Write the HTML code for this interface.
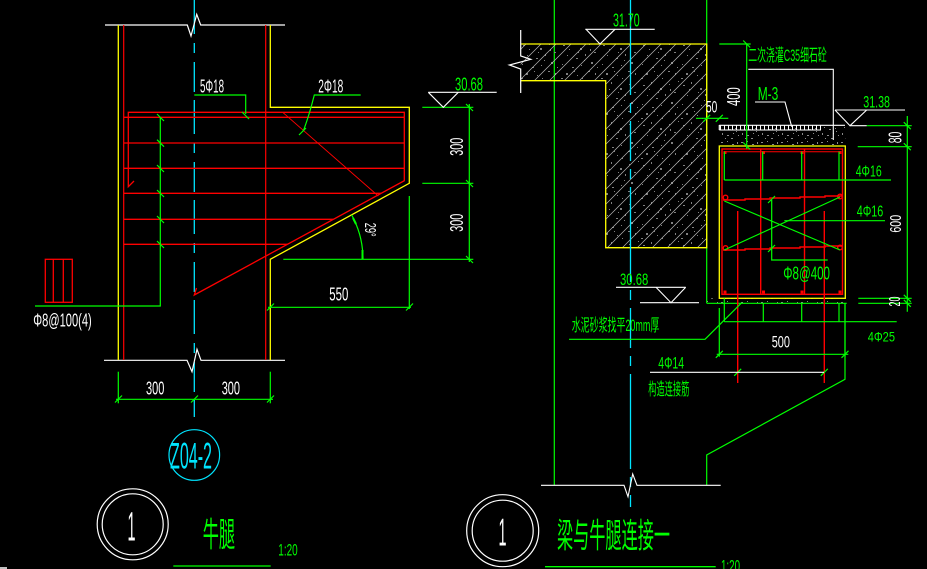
<!DOCTYPE html>
<html><head><meta charset="utf-8"><style>
html,body{margin:0;padding:0;background:#000;}
svg{display:block;}
text{font-family:"Liberation Sans","Noto Sans CJK SC",sans-serif;}
</style></head><body>
<svg width="927" height="569" viewBox="0 0 927 569" xmlns="http://www.w3.org/2000/svg">
<defs>
<pattern id="spk" width="40" height="40" patternUnits="userSpaceOnUse">
<g fill="#808080">
<rect x="3" y="5" width="2" height="1"/><rect x="11" y="2" width="1" height="2"/><rect x="20" y="8" width="2" height="2"/><rect x="29" y="4" width="1" height="1"/><rect x="34" y="12" width="2" height="1"/><rect x="7" y="15" width="1" height="1"/><rect x="16" y="18" width="2" height="1"/><rect x="25" y="14" width="1" height="2"/><rect x="31" y="22" width="2" height="2"/><rect x="2" y="24" width="1" height="1"/><rect x="12" y="27" width="2" height="1"/><rect x="21" y="25" width="1" height="1"/><rect x="28" y="31" width="2" height="1"/><rect x="35" y="33" width="1" height="2"/><rect x="6" y="33" width="2" height="2"/><rect x="17" y="35" width="1" height="1"/><rect x="24" y="20" width="1" height="1"/><rect x="9" y="9" width="1" height="1"/><rect x="30" y="9" width="1" height="2"/><rect x="14" y="31" width="1" height="1"/><rect x="38" y="1" width="1" height="1"/><rect x="37" y="27" width="1" height="1"/><rect x="1" y="38" width="2" height="1"/><rect x="22" y="38" width="1" height="1"/><rect x="18" y="12" width="1" height="1"/>
</g>
</pattern>
<pattern id="spk2" width="20" height="20" patternUnits="userSpaceOnUse">
<g fill="#8a8a8a">
<rect x="1" y="2" width="2" height="1"/><rect x="7" y="1" width="1" height="1"/><rect x="12" y="4" width="2" height="1"/><rect x="17" y="2" width="1" height="2"/><rect x="4" y="7" width="1" height="1"/><rect x="9" y="9" width="2" height="1"/><rect x="15" y="8" width="1" height="1"/><rect x="2" y="13" width="1" height="2"/><rect x="7" y="15" width="2" height="1"/><rect x="13" y="13" width="1" height="1"/><rect x="18" y="15" width="1" height="1"/><rect x="5" y="18" width="1" height="1"/><rect x="11" y="18" width="2" height="1"/><rect x="16" y="11" width="1" height="1"/>
</g>
</pattern>
<pattern id="hat" width="15" height="15" patternUnits="userSpaceOnUse">
<path d="M0,15 L15,0 M-2,2 L2,-2 M13,17 L17,13" stroke="#b8b8b8" stroke-width="0.7"/>
</pattern>
</defs>
<rect width="927" height="569" fill="#000"/>

<!-- ============ LEFT DRAWING ============ -->
<!-- center line -->
<line x1="194.3" y1="0" x2="194.3" y2="417" stroke="#00e5ff" stroke-width="1.3" stroke-dasharray="34 9 10 9 30 8"/>
<!-- break lines -->
<polyline points="105,25 187.3,25 191,36 196.7,14.3 200.7,25 285,25" fill="none" stroke="#fff" stroke-width="1.2"/>
<polyline points="104,360.3 187,360.3 192,371.7 197,349.3 201,360.3 285,360.3" fill="none" stroke="#fff" stroke-width="1.2"/>
<!-- column lines -->
<line x1="118.3" y1="25" x2="118.3" y2="360" stroke="#ffff00" stroke-width="1.3"/>
<line x1="123.7" y1="25" x2="123.7" y2="360" stroke="#ff0000" stroke-width="1.2"/>
<line x1="265.7" y1="25" x2="265.7" y2="360" stroke="#ff0000" stroke-width="1.2"/>
<path d="M270.3,25 V107.3 H409.3 V183.3 L270.3,259.3 V360" fill="none" stroke="#ffff00" stroke-width="1.3"/>
<!-- red rebar -->
<g stroke="#ff0000" stroke-width="1.3" fill="none">
<path d="M134,181 L128.3,186.7 V112.3 H404.3 V180.7 L194.3,295 L196.5,288"/>
<line x1="123.7" y1="117.3" x2="404.3" y2="117.3"/>
<line x1="123.7" y1="143" x2="404.3" y2="143"/>
<line x1="123.7" y1="168.3" x2="404.3" y2="168.3"/>
<line x1="123.7" y1="193.3" x2="381.2" y2="193.3"/>
<line x1="123.7" y1="219.3" x2="333.4" y2="219.3"/>
<line x1="123.7" y1="244.3" x2="287.5" y2="244.3"/>
<line x1="282.7" y1="112.3" x2="378.3" y2="196" stroke-width="0.9"/>
<rect x="45.3" y="259.3" width="27" height="43"/>
<line x1="53.3" y1="259.3" x2="53.3" y2="302.3"/>
<line x1="63.3" y1="259.3" x2="63.3" y2="302.3"/>
</g>
<!-- green left -->
<g stroke="#00ff00" stroke-width="1.2" fill="none">
<polyline points="160.3,117.3 160.3,306 35,306"/>
<path d="M157,114 l7,7 M157,139.7 l7,7 M157,165 l7,7 M157,190 l7,7 M157,216 l7,7 M157,241 l7,7"/>
<polyline points="194.3,95 245.7,95 245.7,114"/>
<path d="M242,112 l7,7"/>
<path d="M360.7,95 H314.3 Q309,116 303.3,131"/>
<path d="M299,135 l7,-7"/>
<!-- dims right -->
<line x1="422.3" y1="107.3" x2="473.3" y2="107.3"/>
<line x1="422.3" y1="183.3" x2="473.3" y2="183.3"/>
<line x1="283.3" y1="259.3" x2="473.3" y2="259.3"/>
<line x1="469.3" y1="104" x2="469.3" y2="262"/>
<path d="M466,104 l7,7 M466,180 l7,7 M466,256 l7,7"/>
<line x1="409.3" y1="196" x2="409.3" y2="309"/>
<line x1="268" y1="307.3" x2="411" y2="307.3"/>
<path d="M267,310.5 l7,-7 M406,310.5 l7,-7"/>
<path d="M351.6,214.8 A92.7,92.7 0 0 1 363,259.3"/>
<path d="M353,218 l3,6 M362.5,250 v9" stroke-width="2"/>
<!-- bottom dims -->
<line x1="118.3" y1="371.7" x2="118.3" y2="403.3"/>
<line x1="270.3" y1="371.7" x2="270.3" y2="403.3"/>
<line x1="116" y1="399.3" x2="273" y2="399.3"/>
<path d="M115,402.5 l7,-7 M191,402.5 l7,-7 M267,402.5 l7,-7"/>
</g>
<!-- elevation 30.68 left -->
<polyline points="428.3,92.3 443.3,107.3 458.3,92.3" fill="none" stroke="#fff" stroke-width="1.1"/>
<line x1="428.3" y1="92.3" x2="496.7" y2="92.3" stroke="#fff" stroke-width="1.1"/>
<!-- left texts -->
<g fill="#fff" font-size="18">
<text x="200" y="92.3" textLength="24" lengthAdjust="spacingAndGlyphs">5Φ18</text>
<text x="318.3" y="92.7" textLength="25" lengthAdjust="spacingAndGlyphs">2Φ18</text>
<text transform="translate(456.3,146.7) rotate(-90)" x="-9" y="6.5" textLength="18" lengthAdjust="spacingAndGlyphs">300</text>
<text transform="translate(456.3,222.8) rotate(-90)" x="-9" y="6.5" textLength="18" lengthAdjust="spacingAndGlyphs">300</text>
<text transform="translate(371,229.7) rotate(90)" x="-7" y="6" font-size="16" textLength="14" lengthAdjust="spacingAndGlyphs">29°</text>
<text x="329.3" y="300.7" textLength="19" lengthAdjust="spacingAndGlyphs">550</text>
<text x="33.3" y="326.7" textLength="58.4" lengthAdjust="spacingAndGlyphs">Φ8@100(4)</text>
<text x="146" y="394.3" textLength="18.3" lengthAdjust="spacingAndGlyphs">300</text>
<text x="221.7" y="394.3" textLength="18.3" lengthAdjust="spacingAndGlyphs">300</text>
<text x="127.5" y="540.7" font-size="41" textLength="8" lengthAdjust="spacingAndGlyphs">1</text>
</g>
<text x="455" y="90.7" fill="#00ff00" font-size="18" textLength="28" lengthAdjust="spacingAndGlyphs">30.68</text>
<!-- axis bubble -->
<circle cx="194.3" cy="455" r="25.3" fill="none" stroke="#00e5ff" stroke-width="1.2"/>
<text x="170" y="468.3" fill="#00e5ff" font-size="37" textLength="42" lengthAdjust="spacingAndGlyphs">Z04-2</text>
<!-- title left -->
<circle cx="132.7" cy="524.3" r="35.5" fill="none" stroke="#fff" stroke-width="1.2"/>
<circle cx="132.7" cy="524.3" r="30.5" fill="none" stroke="#fff" stroke-width="1.2"/>
<text x="202.7" y="546.5" fill="#00ff00" font-size="34" textLength="32.3" lengthAdjust="spacingAndGlyphs">牛腿</text>
<text x="278.3" y="555.7" fill="#00ff00" font-size="17" textLength="19.4" lengthAdjust="spacingAndGlyphs">1:20</text>
<line x1="173.3" y1="566" x2="270.7" y2="566" stroke="#00ff00" stroke-width="1.3"/>
<line x1="0" y1="568" x2="7" y2="568" stroke="#fff" stroke-width="1.5"/>

<!-- ============ RIGHT DRAWING ============ -->
<line x1="554.3" y1="0" x2="554.3" y2="485" stroke="#00ff00" stroke-width="1.2"/>
<line x1="706.7" y1="0" x2="706.7" y2="303.3" stroke="#00ff00" stroke-width="1.2"/>
<!-- concrete block -->
<path d="M520.7,44 H706.7 V247.7 H605.7 V80.7 H520.7 Z" fill="url(#spk)"/>
<path d="M520.7,44 H706.7 V247.7 H605.7 V80.7 H520.7 Z" fill="url(#hat)"/>
<path d="M520.7,44 H706.7 V247.7 H605.7 V80.7 H520.7" fill="none" stroke="#ffff00" stroke-width="1.3"/>
<line x1="630.5" y1="0" x2="630.5" y2="507" stroke="#00e5ff" stroke-width="1.3" stroke-dasharray="95 8 10 8 40 8 10 8"/>
<polyline points="520.7,30 520.7,56 530.7,59.3 509.3,65 520.7,69 520.7,93" fill="none" stroke="#fff" stroke-width="1.2"/>
<!-- elevation 31.70 -->
<line x1="585.3" y1="29.3" x2="654.7" y2="29.3" stroke="#fff" stroke-width="1.1"/>
<polyline points="586,29.3 600,44 615,29.3" fill="none" stroke="#fff" stroke-width="1.1"/>
<text x="613" y="26.7" fill="#00ff00" font-size="18" textLength="26.7" lengthAdjust="spacingAndGlyphs">31.70</text>

<!-- topping -->
<rect x="719.3" y="125" width="126" height="21" fill="url(#spk2)"/>
<line x1="719.3" y1="125.3" x2="845" y2="125.3" stroke="#fff" stroke-width="1.2"/>
<line x1="720" y1="127.5" x2="821" y2="127.5" stroke="#fff" stroke-width="4.5" stroke-dasharray="1 3"/>
<line x1="719.3" y1="130" x2="821" y2="130" stroke="#fff" stroke-width="1"/>
<line x1="719.3" y1="125" x2="719.3" y2="130" stroke="#fff" stroke-width="1.2"/>
<!-- bottom strip -->
<rect x="706.7" y="298.3" width="139" height="5" fill="url(#spk2)"/>
<line x1="706.7" y1="303.3" x2="846.7" y2="303.3" stroke="#00ff00" stroke-width="1.2"/>
<!-- beam yellow -->
<rect x="719.3" y="146" width="126" height="152.3" fill="none" stroke="#ffff00" stroke-width="1.3"/>
<!-- beam red -->
<g stroke="#ff0000" stroke-width="1.4" fill="none">
<rect x="722" y="149" width="120.5" height="145.3"/>
<line x1="724" y1="151.7" x2="840" y2="151.7" stroke-width="1"/>
<line x1="760.7" y1="149" x2="760.7" y2="294.3"/>
<line x1="804.5" y1="149" x2="804.5" y2="294.3"/>
<line x1="737.7" y1="211" x2="737.7" y2="383"/>
<line x1="824.3" y1="211" x2="824.3" y2="383"/>
<polyline points="723,200 745,200 745,199 770,199 770,198 800,198 800,197 825,197 825,196 842,196"/>
<polyline points="723,250 745,250 745,249 770,249 770,248 800,248 800,247 825,247 825,246 842,246"/>
<circle cx="725.5" cy="197.5" r="2.3"/>
<circle cx="840" cy="196.5" r="2.3"/>
<circle cx="725.5" cy="248" r="2.3"/>
<circle cx="840" cy="247.5" r="2.3"/>
</g>
<g fill="#ff0000">
<rect x="723.5" y="151" width="3" height="3"/><rect x="762" y="151" width="3" height="3"/><rect x="800.5" y="151" width="3" height="3"/><rect x="838.5" y="151" width="3" height="3"/>
<rect x="723.5" y="290.5" width="3" height="3"/><rect x="762" y="290.5" width="3" height="3"/><rect x="800.5" y="290.5" width="3" height="3"/><rect x="838.5" y="290.5" width="3" height="3"/>
</g>
<!-- beam green -->
<g stroke="#00ff00" stroke-width="1.2" fill="none">
<line x1="724.3" y1="151.7" x2="724.3" y2="180"/>
<line x1="762.7" y1="151.7" x2="762.7" y2="180"/>
<line x1="801.7" y1="151.7" x2="801.7" y2="180"/>
<line x1="839" y1="151.7" x2="839" y2="180"/>
<line x1="724.3" y1="180" x2="891" y2="180"/>
<line x1="724.3" y1="201" x2="840" y2="250"/>
<line x1="724.3" y1="250" x2="840" y2="197"/>
<line x1="784.3" y1="220.7" x2="885" y2="220.7"/>
<polyline points="771.7,200 771.7,260 827.7,260"/>
<path d="M768,203 l7,-7 M768,252 l7,-7"/>
<!-- below beam -->
<line x1="724.3" y1="298.3" x2="724.3" y2="321.7"/>
<line x1="763.3" y1="303.3" x2="763.3" y2="321.7"/>
<line x1="801.7" y1="303.3" x2="801.7" y2="321.7"/>
<line x1="839" y1="303.3" x2="839" y2="321.7"/>
<line x1="724.3" y1="321.7" x2="896.7" y2="321.7"/>
<!-- 400 dim -->
<line x1="719.3" y1="44" x2="750.7" y2="44"/>
<line x1="746.7" y1="44" x2="746.7" y2="149"/>
<path d="M743.2,40.5 l7,7 M743.2,142.5 l7,7"/>
<!-- 50 dim -->
<line x1="696" y1="118.3" x2="728.3" y2="118.3"/>
<path d="M703.2,121.8 l7,-7 M715.8,121.8 l7,-7"/>
<!-- right dims -->
<line x1="907.3" y1="116" x2="907.3" y2="311.7"/>
<line x1="866.7" y1="125.7" x2="911.7" y2="125.7"/>
<line x1="857.7" y1="146.7" x2="911.7" y2="146.7"/>
<line x1="858.3" y1="298.3" x2="911.7" y2="298.3"/>
<line x1="858.3" y1="303.3" x2="911.7" y2="303.3"/>
<path d="M903.8,122.2 l7,7 M903.8,143.2 l7,7 M903.8,294.8 l7,7 M903.8,299.8 l7,7"/>
<!-- corbel -->
<polyline points="845,303.3 845,379.3 706.7,455 706.7,485"/>
<!-- 500 dim -->
<line x1="719.3" y1="308" x2="719.3" y2="356.7"/>
<line x1="845" y1="303.3" x2="845" y2="356.7"/>
<line x1="716.7" y1="354.3" x2="848.3" y2="354.3"/>
<path d="M715.8,357.8 l7,-7 M841.5,357.8 l7,-7"/>
<!-- mortar leader -->
<polyline points="569,339.3 705,339.3 741.7,302.7"/>
<!-- 4Φ14 ticks -->
<path d="M734.2,375.8 l7,-7 M820.8,375.8 l7,-7"/>
</g>
<!-- white leaders -->
<g stroke="#fff" stroke-width="1.1" fill="none">
<polyline points="748.3,69.3 833.3,69.3 833.3,140"/>
<polyline points="755,102 785,102 791.7,126.7"/>
<line x1="835" y1="110" x2="905" y2="110"/>
<polyline points="835,110 850,125.7 866.7,110"/>
<line x1="850" y1="125.7" x2="866.7" y2="125.7"/>
<line x1="616" y1="287.3" x2="685.7" y2="287.3"/>
<polyline points="656,287.3 671,302.7 685.7,287.3"/>
<line x1="640" y1="302.7" x2="699" y2="302.7"/>
<line x1="650" y1="372.3" x2="824" y2="372.3"/>
<polyline points="541,485.3 624,485.3 628,496.7 632.7,474 637,485.3 720.7,485.3"/>
</g>
<!-- right texts -->
<g fill="#00ff00" font-size="17">
<text x="748.3" y="61" textLength="78.4" lengthAdjust="spacingAndGlyphs">二次浇灌C35细石砼</text>
<text x="757.7" y="100" font-size="18" textLength="20.6" lengthAdjust="spacingAndGlyphs">M-3</text>
<text x="863.3" y="107.7" textLength="26.7" lengthAdjust="spacingAndGlyphs">31.38</text>
<text x="855.7" y="176.7" font-size="16" textLength="26" lengthAdjust="spacingAndGlyphs">4Φ16</text>
<text x="856.7" y="216.7" font-size="16" textLength="26.6" lengthAdjust="spacingAndGlyphs">4Φ16</text>
<text x="783.3" y="279.3" font-size="18" textLength="46.7" lengthAdjust="spacingAndGlyphs">Φ8@400</text>
<text x="620" y="285" textLength="28.3" lengthAdjust="spacingAndGlyphs">30.68</text>
<text x="571.7" y="331" textLength="87.6" lengthAdjust="spacingAndGlyphs">水泥砂浆找平20mm厚</text>
<text x="867.7" y="341.7" font-size="14" textLength="27.3" lengthAdjust="spacingAndGlyphs">4Φ25</text>
<text x="658.3" y="368.3" textLength="25.7" lengthAdjust="spacingAndGlyphs">4Φ14</text>
<text x="648.3" y="395" textLength="41" lengthAdjust="spacingAndGlyphs">构造连接筋</text>
<text x="557" y="547.5" font-size="34" textLength="113" lengthAdjust="spacingAndGlyphs">梁与牛腿连接一</text>
<text x="721" y="571.5" textLength="19" lengthAdjust="spacingAndGlyphs">1:20</text>
</g>
<g fill="#fff" font-size="18">
<text transform="translate(733.3,96.7) rotate(-90)" x="-9.3" y="6.5" textLength="18.7" lengthAdjust="spacingAndGlyphs">400</text>
<text x="706" y="112.3" font-size="17" textLength="11.3" lengthAdjust="spacingAndGlyphs">50</text>
<text transform="translate(895,137.5) rotate(-90)" x="-5.8" y="6.5" textLength="11.6" lengthAdjust="spacingAndGlyphs">80</text>
<text transform="translate(895,223.8) rotate(-90)" x="-8.8" y="6" font-size="16" textLength="17.7" lengthAdjust="spacingAndGlyphs">600</text>
<text transform="translate(894,301.5) rotate(-90)" x="-5" y="6" font-size="16" textLength="10" lengthAdjust="spacingAndGlyphs">20</text>
<text x="771.7" y="347.3" font-size="17" textLength="18.3" lengthAdjust="spacingAndGlyphs">500</text>
<text x="498.5" y="545.7" font-size="39" textLength="8" lengthAdjust="spacingAndGlyphs">1</text>
</g>
<circle cx="502.7" cy="530.7" r="36" fill="none" stroke="#fff" stroke-width="1.2"/>
<circle cx="502.7" cy="530.7" r="30.5" fill="none" stroke="#fff" stroke-width="1.2"/>
<line x1="545" y1="566.7" x2="715.7" y2="566.7" stroke="#00ff00" stroke-width="1.3"/>
</svg>
</body></html>
